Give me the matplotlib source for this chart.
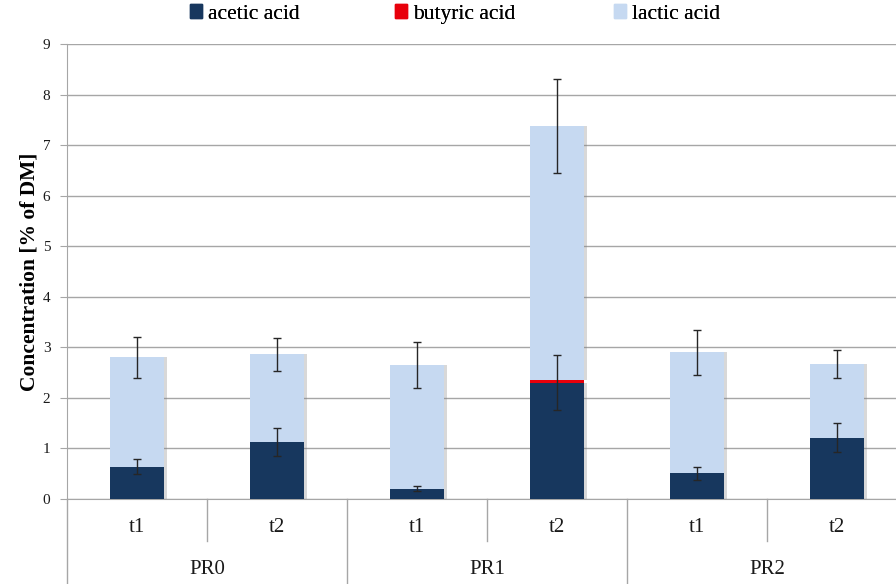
import numpy as np
import matplotlib
matplotlib.use('Agg')
import matplotlib.pyplot as plt
import matplotlib.patheffects as pe
from matplotlib.patches import Patch

# data
groups   = ['PR0', 'PR1', 'PR2']
times    = ['t1', 't2']
acetic   = [0.64, 1.13, 0.20, 2.30, 0.51, 1.21]
butyric  = [0.00, 0.00, 0.00, 0.05, 0.00, 0.00]
lactic   = [2.16, 1.73, 2.45, 5.03, 2.39, 1.46]
acetic_err = [0.15, 0.27, 0.05, 0.54, 0.13, 0.29]
lactic_err = [0.41, 0.32, 0.46, 0.93, 0.45, 0.27]
names = ['acetic acid', 'butyric acid', 'lactic acid']

c_acetic  = '#17375E'
c_butyric = '#E8000B'
c_lactic  = '#C6D9F1'
grid_col  = '#A6A6A6'
serif = ['Liberation Serif', 'DejaVu Serif']

W, H = 896, 584
fig = plt.figure(figsize=(W/100, H/100), dpi=100)
# axes extends a little past the right edge, like the cropped original
ax = fig.add_axes([67/W, (H-499)/H, (907-67)/W, (499-44)/H])

x = np.arange(len(acetic))
width = 0.39
shadow = [pe.SimplePatchShadow(offset=(2, 0), shadow_rgbFace='#808080', alpha=0.3), pe.Normal()]

acetic = np.array(acetic)
butyric = np.array(butyric)
lactic = np.array(lactic)

b1 = ax.bar(x, acetic, width, color=c_acetic, zorder=3)
b2 = ax.bar(x, butyric, width, bottom=acetic, color=c_butyric, zorder=3)
b3 = ax.bar(x, lactic, width, bottom=acetic + butyric, color=c_lactic, zorder=3)
for bars in (b1, b3):
    for p in bars:
        p.set_path_effects(shadow)

ax.errorbar(x, acetic, yerr=acetic_err, fmt='none', ecolor='#262626', elinewidth=1,
            capsize=3, capthick=1, zorder=4)
ax.errorbar(x, acetic + butyric + lactic, yerr=lactic_err, fmt='none', ecolor='#262626',
            elinewidth=1, capsize=3, capthick=1, zorder=4)

ax.set_xlim(-0.5, 5.5)
ax.set_ylim(0, 9)
ax.set_yticks(range(0, 10))
ax.yaxis.grid(True, color=grid_col, lw=1)
ax.set_axisbelow(True)
ax.set_xticks([])
for s in ['top', 'right']:
    ax.spines[s].set_visible(False)
ax.spines['left'].set_color(grid_col)
ax.spines['bottom'].set_color(grid_col)
ax.tick_params(axis='y', length=5, color=grid_col, labelsize=11, pad=7)
for lab in ax.get_yticklabels():
    lab.set_family(serif)
    lab.set_color('#1a1a1a')

ax.set_ylabel('Concentration [% of DM]', family=['Liberation Serif'], fontweight='bold',
              fontsize=15.5, labelpad=2)

# category axis below the plot
tr = ax.get_xaxis_transform()
ax_h = 455.0
short = -42 / ax_h
long_ = -90 / ax_h
for i in range(len(groups)):
    ax.plot([2*i + 0.5, 2*i + 0.5], [0, short], transform=tr, color=grid_col, lw=1, clip_on=False)
for i in range(len(groups) + 1):
    ax.plot([2*i - 0.5, 2*i - 0.5], [0, long_], transform=tr, color=grid_col, lw=1, clip_on=False)
for i, xi in enumerate(x):
    ax.text(xi, -28 / ax_h, times[i % 2], transform=tr, ha='center', va='center',
            family=serif, fontsize=15, color='#1a1a1a')
for i, g in enumerate(groups):
    ax.text(2*i + 0.5, -71 / ax_h, g, transform=tr, ha='center', va='center',
            family=serif, fontsize=15, color='#1a1a1a')

# legend entries spaced like the original
colors = [c_acetic, c_butyric, c_lactic]
leg_x = [190, 395, 614]
for name, col, lx in zip(names, colors, leg_x):
    leg = fig.legend([Patch(color=col)], [name], loc='center left',
                     bbox_to_anchor=(lx/W, (H-14)/H), frameon=False, borderaxespad=0,
                     borderpad=0, handlelength=0.55, handleheight=0.6, handletextpad=0.3,
                     prop={'family': serif, 'size': 15.5})
    fig.add_artist(leg)

fig.savefig('out.png', dpi=100)
